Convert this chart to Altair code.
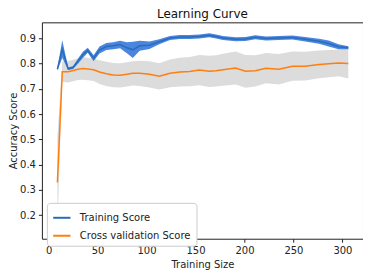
import altair as alt
import pandas as pd

sizes = [9, 14, 20, 25, 30, 35, 40, 46, 52, 59, 66, 73, 80, 86, 93, 103, 113, 124, 134, 144,
         154, 164, 171, 178, 191, 201, 211, 222, 235, 249, 262, 276, 286, 296, 306]
train_mean = [0.778, 0.858, 0.780, 0.785, 0.810, 0.835, 0.853, 0.822, 0.854, 0.868, 0.871, 0.876,
              0.863, 0.855, 0.871, 0.873, 0.887, 0.902, 0.906, 0.906, 0.908, 0.913, 0.908, 0.902,
              0.897, 0.898, 0.905, 0.900, 0.902, 0.904, 0.897, 0.889, 0.880, 0.867, 0.863]
train_std = [0.005, 0.035, 0.005, 0.006, 0.010, 0.012, 0.010, 0.012, 0.014, 0.014, 0.014, 0.015,
             0.022, 0.032, 0.020, 0.015, 0.010, 0.008, 0.008, 0.008, 0.008, 0.008, 0.008, 0.008,
             0.008, 0.008, 0.008, 0.008, 0.008, 0.008, 0.009, 0.010, 0.012, 0.010, 0.006]
cv_mean = [0.329, 0.768, 0.768, 0.773, 0.778, 0.781, 0.779, 0.776, 0.767, 0.760, 0.755, 0.754,
           0.758, 0.762, 0.762, 0.758, 0.750, 0.762, 0.767, 0.769, 0.775, 0.770, 0.772, 0.776,
           0.783, 0.770, 0.772, 0.782, 0.778, 0.790, 0.790, 0.797, 0.800, 0.803, 0.801]
cv_std = [0.182, 0.040, 0.043, 0.043, 0.043, 0.045, 0.045, 0.045, 0.047, 0.048, 0.048, 0.048,
          0.048, 0.048, 0.050, 0.052, 0.052, 0.055, 0.057, 0.058, 0.060, 0.062, 0.062, 0.063,
          0.065, 0.065, 0.062, 0.060, 0.060, 0.058, 0.057, 0.055, 0.054, 0.053, 0.060]

series_names = ["Training Score", "Cross validation Score"]
x_ticks = [0, 50, 100, 150, 200, 250, 300]
y_ticks = [0.2, 0.3, 0.4, 0.5, 0.6, 0.7, 0.8, 0.9]

rows = []
for i, s in enumerate(sizes):
    rows.append({"size": s, "series": series_names[0], "mean": train_mean[i],
                 "lo": train_mean[i] - train_std[i], "hi": train_mean[i] + train_std[i]})
    rows.append({"size": s, "series": series_names[1], "mean": cv_mean[i],
                 "lo": cv_mean[i] - cv_std[i], "hi": cv_mean[i] + cv_std[i]})
df = pd.DataFrame(rows)

xs = alt.Scale(domain=[-6.8, 321], nice=False, zero=False)
ys = alt.Scale(domain=[0.106, 0.964], nice=False, zero=False)

xaxis = alt.Axis(values=x_ticks, format="d", labelOverlap=False, labelFlush=False)
yaxis = alt.Axis(values=y_ticks, format=".1f", labelOverlap=False, labelFlush=False)

xenc = alt.X("size:Q", scale=xs, title="Training Size", axis=xaxis)

base = alt.Chart(df)

cv_band = base.transform_filter(alt.datum.series == series_names[1]).mark_area(
    color="#dcdcdc", opacity=1).encode(
    x=xenc, y=alt.Y("lo:Q", scale=ys, title="Accuracy Score", axis=yaxis), y2="hi:Q")
tr_band = base.transform_filter(alt.datum.series == series_names[0]).mark_area(
    color="#4a86e0", opacity=1).encode(
    x=xenc, y=alt.Y("lo:Q", scale=ys, title="Accuracy Score", axis=yaxis), y2="hi:Q")

lines = base.mark_line(strokeWidth=1.5).encode(
    x=xenc, y=alt.Y("mean:Q", scale=ys, title="Accuracy Score", axis=yaxis),
    color=alt.Color("series:N",
                    scale=alt.Scale(domain=series_names, range=["#2a6cb8", "#ff7f0e"]),
                    sort=series_names,
                    legend=alt.Legend(title=None, orient="none", legendX=5, legendY=181,
                                      symbolType="stroke", symbolStrokeWidth=2, symbolSize=300,
                                      labelFontSize=10, labelFont="DejaVu Sans", labelColor="#222",
                                      fillColor="white", strokeColor="#cccccc", padding=5,
                                      cornerRadius=3, rowPadding=3, labelOffset=8)),
    detail="series:N")

chart = alt.layer(cv_band, tr_band, lines).properties(
    width=322, height=217,
    title=alt.TitleParams("Learning Curve", fontSize=12, fontWeight="normal",
                          font="DejaVu Sans", color="#111", offset=1),
    autosize=alt.AutoSizeParams(type="none"),
    padding={"left": 34, "top": 14, "right": 0, "bottom": 40},
).configure_view(stroke="#222", strokeWidth=1).configure_axis(
    grid=False, domain=False, tickColor="#222", tickSize=3.5, tickWidth=1,
    labelFont="DejaVu Sans", labelFontSize=10, labelColor="#222", labelPadding=3,
    titleFont="DejaVu Sans", titleFontSize=10, titleFontWeight="normal", titleColor="#222",
).configure_axisY(titlePadding=1).configure_axisX(titlePadding=4)

chart.save("out.html", embed_options={"renderer": "svg", "actions": False})
